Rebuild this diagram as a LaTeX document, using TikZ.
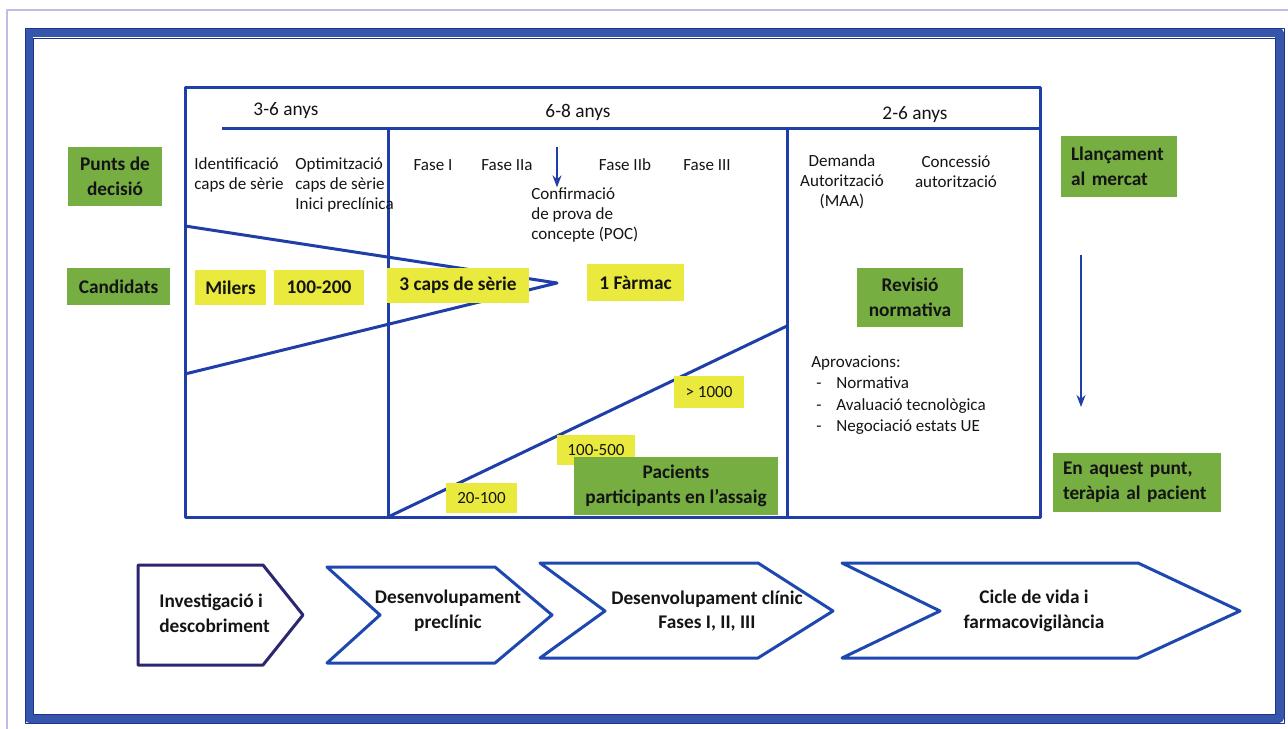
\documentclass[tikz,border=0pt]{standalone}
\usepackage{fontspec}
\setmainfont{Carlito}
\usetikzlibrary{arrows.meta}

\definecolor{lineblue}{RGB}{32,62,168}
\definecolor{frameblue}{RGB}{54,86,172}
\definecolor{framedark}{RGB}{30,52,140}
\definecolor{stageblue}{RGB}{30,72,176}
\definecolor{navy}{RGB}{42,38,112}
\definecolor{boxgreen}{RGB}{118,174,66}
\definecolor{boxyellow}{RGB}{234,234,62}
\definecolor{edgeline}{RGB}{190,190,228}
\definecolor{ink}{RGB}{20,20,20}

\newcommand{\bigtxt}{\fontsize{11}{14}\selectfont}
\newcommand{\smalltxt}{\fontsize{9.7}{11.4}\selectfont}

\tikzset{
  mainline/.style={lineblue,line width=0.06cm},
  stageline/.style={stageblue,line width=0.06cm},
  thinarrow/.style={lineblue,line width=0.9pt,-{Stealth[length=2.4mm,width=1.8mm]}},
  greenbox/.style={fill=boxgreen,text=ink,font=\bigtxt\bfseries,align=center,inner sep=0pt},
  yellowbox/.style={fill=boxyellow,text=ink,font=\bigtxt\bfseries,inner sep=0pt},
  numbox/.style={fill=boxyellow,text=ink,font=\smalltxt,inner sep=0pt},
  period/.style={text=ink,font=\bigtxt,inner sep=0pt},
  note/.style={text=ink,font=\smalltxt,align=center,inner sep=0pt},
  stagetxt/.style={text=ink,font=\bigtxt\bfseries,align=center,inner sep=0pt}
}

\begin{document}
\begin{tikzpicture}[x=0.02cm,y=-0.02cm,line join=round]
  \useasboundingbox (0,0) rectangle (1288,729);

  % frames
  \draw[edgeline,line width=0.6pt] (7,729) -- (7,10) -- (1288,10);
  \draw[frameblue,line width=0.18cm] (29,33) rectangle (1279,718);
  \draw[framedark,line width=0.5pt] (25,28) rectangle (1284,723);
  \draw[framedark,line width=0.5pt] (33,38) rectangle (1275,714);

  % timeline
  \draw[mainline] (185,88) rectangle (1040,517);
  \draw[mainline] (222,129) -- (1040,129);
  \draw[mainline] (388,129) -- (388,517);
  \draw[mainline] (787,129) -- (787,517);

  \coordinate (f1) at (185,226);
  \coordinate (tip) at (557,283);
  \coordinate (f2) at (185,374);
  \coordinate (r0) at (388,517);
  \coordinate (r1) at (787,326);
  \draw[mainline] (f1) -- (tip) -- (f2);
  \draw[mainline] (r0) -- (r1);

  \path (286,111) node[period] (y1) {3-6 anys};
  \path (578,112) node[period] (y2) {6-8 anys};
  \path (915,115) node[period] (y3) {2-6 anys};

  \path (194,175) node[note,anchor=west,align=left] (ident) {Identificació\\caps de sèrie};
  \path (295,185) node[note,anchor=west,align=left] (optim) {Optimització\\caps de sèrie\\Inici preclínica};
  \path (433,165) node[note] (fi) {Fase I};
  \path (507,165) node[note] (fiia) {Fase IIa};
  \path (625,165) node[note] (fiib) {Fase IIb};
  \path (707,165) node[note] (fiii) {Fase III};
  \path (531,215) node[note,anchor=west,align=left] (poc) {Confirmació\\de prova de\\concepte (POC)};
  \path (842,182) node[note] (maa) {Demanda\\Autorització\\(MAA)};
  \path (956,172) node[note] (conc) {Concessió\\autorització};
  \path (811,395) node[note,anchor=west,align=left,font=\fontsize{9.7}{12.2}\selectfont] (aprov)
    {Aprovacions:\\
     \makebox[0.5cm][l]{\hspace{0.1cm}-}Normativa\\
     \makebox[0.5cm][l]{\hspace{0.1cm}-}Avaluació tecnològica\\
     \makebox[0.5cm][l]{\hspace{0.1cm}-}Negociació estats UE};

  \coordinate (pa) at (557,147);
  \draw[thinarrow] (pa) -- (pa |- poc.north);

  % boxes
  \path (115,176.5) node[greenbox,minimum width=1.9cm,minimum height=1.18cm] (punts) {Punts de\\decisió};
  \path (118.5,286.5) node[greenbox,minimum width=2.06cm,minimum height=0.74cm] (cand) {Candidats};
  \path (230.5,287.5) node[yellowbox,minimum width=1.42cm,minimum height=0.7cm] (milers) {Milers};
  \path (319,287.5) node[yellowbox,minimum width=1.8cm,minimum height=0.7cm] (c100) {100-200};
  \path (458,285.5) node[yellowbox,minimum width=2.84cm,minimum height=0.7cm] (caps3) {3 caps de sèrie};
  \path (635.5,282.5) node[yellowbox,minimum width=1.94cm,minimum height=0.74cm] (farmac) {1 Fàrmac};
  \path (709,392) node[numbox,minimum width=1.4cm,minimum height=0.64cm] (m1000) {> 1000};
  \path (596,450) node[numbox,minimum width=1.56cm,minimum height=0.6cm] (m500) {100-500};
  \path (481.5,498) node[numbox,minimum width=1.42cm,minimum height=0.6cm] (m20) {20-100};
  \path (676,486) node[greenbox,minimum width=4.08cm,minimum height=1.16cm] (pacients) {Pacients\\participants en l'assaig};
  \path (910,297.5) node[greenbox,minimum width=2.12cm,minimum height=1.18cm] (revisio) {Revisió\\normativa};
  \path (1119,166.5) node[greenbox,align=left,inner xsep=0.2cm,text width=1.92cm,minimum height=1.22cm] (llanc) {Llançament\\al mercat};
  \path (1137,482.5) node[greenbox,align=left,inner xsep=0.2cm,text width=2.96cm,minimum height=1.18cm] (terapia) {En aquest punt,\\teràpia al pacient};

  \coordinate (ma) at (1081,255);
  \coordinate (mb) at (1081,407);
  \draw[thinarrow] (ma) -- (mb);

  % stages
  \draw[stageline,navy] (138,565) -- (263,565) -- (303,615) -- (263,665) -- (138,665) -- cycle;
  \draw[stageline] (327,567) -- (495,567) -- (552,615) -- (495,663) -- (327,663) -- (380,615) -- cycle;
  \draw[stageline] (540,563) -- (758,563) -- (833,611) -- (758,658) -- (540,658) -- (605,611) -- cycle;
  \draw[stageline] (842,563) -- (1138,563) -- (1240,611) -- (1138,658) -- (842,658) -- (940,611) -- cycle;

  \path (159,613) node[stagetxt,anchor=west,align=left] (st1) {Investigació i\\descobriment};
  \path (448,611) node[stagetxt] (st2) {Desenvolupament\\preclínic};
  \path (707,611) node[stagetxt] (st3) {Desenvolupament clínic\\Fases I, II, III};
  \path (1034,611) node[stagetxt] (st4) {Cicle de vida i\\farmacovigilància};
\end{tikzpicture}
\end{document}
